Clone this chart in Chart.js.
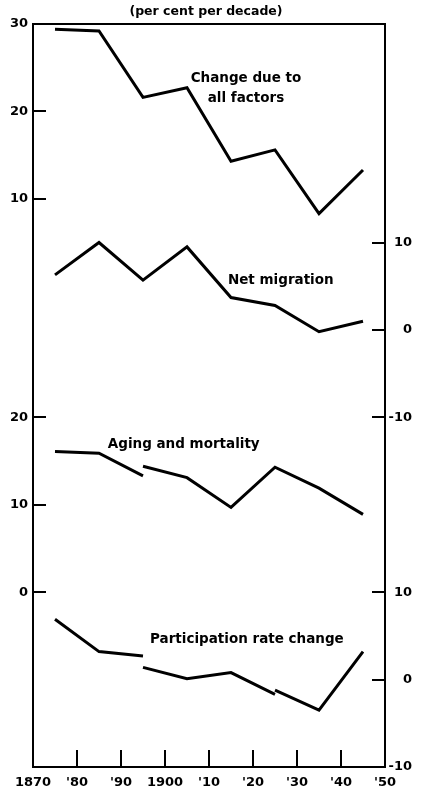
<!DOCTYPE html>
<html>
<head>
<meta charset="utf-8">
<script src="https://cdn.jsdelivr.net/npm/chart.js@4.4.1/dist/chart.umd.min.js"></script>
<style>
  html, body { margin: 0; padding: 0; background: #fff; }
  #wrap { width: 424px; height: 792px; }
</style>
</head>
<body>
<div id="wrap"><canvas id="chart" width="424" height="792"></canvas></div>
<script>
// --- data (per cent per decade), plotted at decade mid-points ---
const decadeMids = [1875, 1885, 1895, 1905, 1915, 1925, 1935, 1945];
const allFactors = [29.4, 29.2, 21.6, 22.7, 14.3, 15.6, 8.3, 13.3];
const netMigration = [6.3, 10.0, 5.7, 9.5, 3.7, 2.8, -0.2, 1.0];

// aging and mortality is broken at 1895
const agingYears1 = [1875, 1885, 1895];
const aging1 = [16.1, 15.9, 13.3];
const agingYears2 = [1895, 1905, 1915, 1925, 1935, 1945];
const aging2 = [14.4, 13.1, 9.7, 14.3, 11.9, 8.9];

// participation rate change is broken at 1895 and 1925
const partYears1 = [1875, 1885, 1895];
const part1 = [6.9, 3.2, 2.7];
const partYears2 = [1895, 1905, 1915, 1925];
const part2 = [1.4, 0.1, 0.8, -1.7];
const partYears3 = [1925, 1935, 1945];
const part3 = [-1.2, -3.5, 3.2];

// tick labels
const xTickLabels = ['1870', "'80", "'90", '1900', "'10", "'20", "'30", "'40", "'50"];
const leftTicksTop = [30, 20, 10];     // change due to all factors
const leftTicksBottom = [20, 10, 0];   // aging and mortality
const rightTicksTop = [10, 0, -10];    // net migration
const rightTicksBottom = [10, 0, -10]; // participation rate change

// each series gets its own scale, all sharing the same plot height
const rangeA = [-55, 30];
const rangeB = [-50, 35];
const rangeC = [-20, 65];
const rangeD = [-10, 75];

const FONT = 'DejaVu Sans';
const INK = '#000';

const toPoints = (xs, ys) => xs.map((x, i) => ({ x: x, y: ys[i] }));

const lineSet = (data, axis) => ({
    data: data,
    yAxisID: axis,
    borderColor: INK,
    borderWidth: 3,
    pointRadius: 0,
    tension: 0,
    fill: false
});

// left axis carries series A ticks plus series C ticks moved onto A's scale
const leftTickItems = leftTicksTop.map(v => ({ value: v, label: String(v) }))
    .concat(leftTicksBottom.map(v => ({ value: v + (rangeA[0] - rangeC[0]), label: String(v) })));
const rightTickItems = rightTicksTop.map(v => ({ value: v, label: String(v) }))
    .concat(rightTicksBottom.map(v => ({ value: v + (rangeB[0] - rangeD[0]), label: String(v) })));

const seriesLabels = [
    { text: 'Change due to', axis: 'yA', x: 1918.4, y: 23.8, align: 'center' },
    { text: 'all factors', axis: 'yA', x: 1918.4, y: 21.5, align: 'center' },
    { text: 'Net migration', axis: 'yB', x: 1914.3, y: 5.6, align: 'left' },
    { text: 'Aging and mortality', axis: 'yC', x: 1887.0, y: 16.9, align: 'left' },
    { text: 'Participation rate change', axis: 'yD', x: 1896.6, y: 4.6, align: 'left' }
];

const labelPlugin = {
    id: 'seriesLabels',
    afterDatasetsDraw(chart) {
        const ctx = chart.ctx;
        const xs = chart.scales.x;
        ctx.save();
        ctx.fillStyle = INK;
        ctx.font = 'bold 13.5px "' + FONT + '"';
        ctx.textBaseline = 'middle';
        seriesLabels.forEach(l => {
            ctx.textAlign = l.align;
            ctx.fillText(l.text, xs.getPixelForValue(l.x), chart.scales[l.axis].getPixelForValue(l.y));
        });
        ctx.restore();
    }
};

const tickFont = { family: FONT, size: 13, weight: 'bold' };

// ticks point inward, so drop the label overhang padding the scales ask for
const noPadding = s => {
    s.paddingLeft = 0;
    s.paddingRight = 0;
    s.paddingTop = 0;
    s.paddingBottom = 0;
};

const yVisible = (pos, range, items, width) => ({
    type: 'linear',
    position: pos,
    min: range[0],
    max: range[1],
    grid: { display: true, drawOnChartArea: false, drawTicks: true, tickLength: -13, lineWidth: 2, color: INK },
    border: { display: true, width: 2, color: INK },
    ticks: {
        autoSkip: false,
        padding: 18,
        crossAlign: pos === 'left' ? 'near' : 'far',
        color: INK,
        font: tickFont,
        callback: (v, i) => items[i].label
    },
    afterBuildTicks: s => { s.ticks = items.map(t => ({ value: t.value })); },
    afterFit: s => { s.width = width; noPadding(s); }
});

new Chart(document.getElementById('chart'), {
    type: 'line',
    data: {
        datasets: [
            lineSet(toPoints(decadeMids, allFactors), 'yA'),
            lineSet(toPoints(decadeMids, netMigration), 'yB'),
            lineSet(toPoints(agingYears1, aging1), 'yC'),
            lineSet(toPoints(agingYears2, aging2), 'yC'),
            lineSet(toPoints(partYears1, part1), 'yD'),
            lineSet(toPoints(partYears2, part2), 'yD'),
            lineSet(toPoints(partYears3, part3), 'yD')
        ]
    },
    options: {
        responsive: false,
        animation: false,
        devicePixelRatio: 1,
        layout: { autoPadding: false, padding: { left: 0, right: 12, top: 0, bottom: 0 } },
        plugins: {
            legend: { display: false },
            tooltip: { enabled: false },
            title: {
                display: true,
                text: '(per cent per decade)',
                color: INK,
                font: { family: FONT, size: 12.5, weight: 'bold' },
                padding: { top: 4, bottom: 5 }
            }
        },
        scales: {
            x: {
                type: 'linear',
                position: 'bottom',
                min: 1870,
                max: 1950,
                grid: { display: true, drawOnChartArea: false, drawTicks: true, tickLength: -17, lineWidth: 2, color: INK },
                border: { display: true, width: 2, color: INK },
                ticks: {
                    stepSize: 10,
                    autoSkip: false,
                    maxRotation: 0,
                    padding: 25,
                    color: INK,
                    font: tickFont,
                    callback: (v, i) => xTickLabels[i]
                },
                afterFit: s => { s.height = 25; noPadding(s); }
            },
            xTop: {
                type: 'linear',
                position: 'top',
                grid: { display: false },
                border: { display: true, width: 2, color: INK },
                ticks: { display: false },
                afterFit: s => { s.height = 0; noPadding(s); }
            },
            yA: yVisible('left', rangeA, leftTickItems, 33),
            yB: yVisible('right', rangeB, rightTickItems, 27),
            yC: { type: 'linear', display: false, min: rangeC[0], max: rangeC[1] },
            yD: { type: 'linear', display: false, min: rangeD[0], max: rangeD[1] }
        }
    },
    plugins: [labelPlugin]
});
</script>
</body>
</html>
